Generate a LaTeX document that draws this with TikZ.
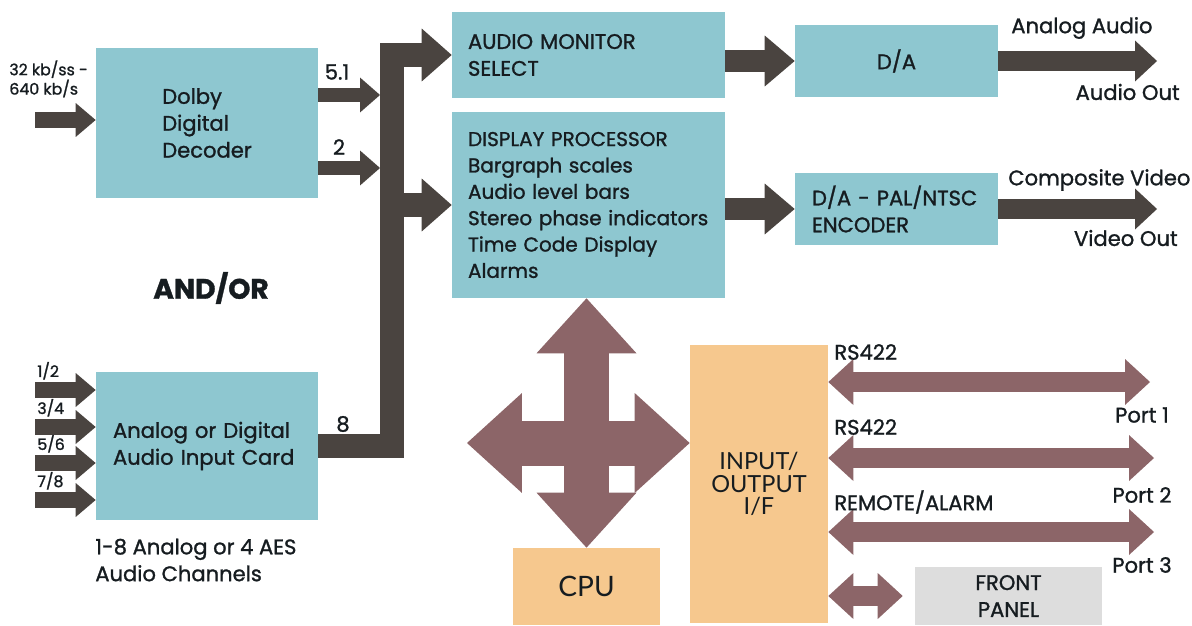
\documentclass[tikz,border=0pt]{standalone}
\usepackage{fontspec}
\setmainfont{Poppins}[FakeBold=1.2]
\newfontfamily\ioFont{Lato}
\usetikzlibrary{arrows.meta,calc}
\definecolor{BoxClr}{RGB}{142,199,208}
\definecolor{IoClr}{RGB}{246,200,142}
\definecolor{PanelClr}{RGB}{221,221,221}
\definecolor{BusClr}{RGB}{74,68,64}
\definecolor{LinkClr}{RGB}{140,101,104}
\definecolor{TextClr}{RGB}{22,28,32}
\newcommand\mainSize{\fontsize{12pt}{15.3pt}\selectfont}
\newcommand\smallSize{\fontsize{9pt}{11pt}\selectfont}

\begin{document}
\begin{tikzpicture}[x=0.02cm,y=-0.02cm,
  box/.style={fill=BoxClr,inner ysep=0pt,text=TextClr,font=\mainSize},
  iobox/.style={fill=IoClr,inner sep=0pt,text=TextClr},
  lbl/.style={text=TextClr,font=\mainSize,inner sep=0pt},
  inarr/.style={draw=BusClr,line width=3.2mm,-{Triangle[length=4mm,width=6.8mm,line width=0pt]}},
  midarr/.style={draw=BusClr,line width=3mm,-{Triangle[length=4mm,width=7mm,line width=0pt]}},
  bus/.style={draw=BusClr,line width=4.8mm,line join=miter,-{Triangle[length=6mm,width=10.6mm,line width=0pt]}},
  busarr/.style={draw=BusClr,line width=4.4mm,-{Triangle[length=6mm,width=10.2mm,line width=0pt]}},
  outarr/.style={draw=BusClr,line width=4mm,-{Triangle[length=4.4mm,width=8.2mm,line width=0pt]}},
  linkarr/.style={draw=LinkClr,line width=4mm,{Triangle[length=5mm,width=9.2mm,line width=0pt]}-{Triangle[length=5mm,width=9.2mm,line width=0pt]}},
  crossarr/.style={draw=LinkClr,line width=9mm,{Triangle[length=11mm,width=20mm,line width=0pt]}-{Triangle[length=11mm,width=20mm,line width=0pt]}}]
\useasboundingbox (0,0) rectangle (1192,625);

% blocks
\node[box,minimum width=4.44cm,minimum height=3cm,align=left] (dolby) at (207,123) {Dolby\\Digital\\Decoder};
\node[box,inner xsep=0.34cm,text width=3.76cm,minimum height=2.96cm,align=left] (card) at (207,446) {Analog or Digital\\Audio Input Card};
\node[box,inner xsep=0.32cm,text width=4.82cm,minimum height=1.72cm,align=left] (monitor) at (588.5,55) {AUDIO MONITOR\\SELECT};
\node[box,inner xsep=0.32cm,text width=4.82cm,minimum height=3.72cm,align=left,font=\fontsize{11.4pt}{15pt}\selectfont] (disp) at (588.5,205) {DISPLAY PROCESSOR\\Bargraph scales\\Audio level bars\\\mbox{Stereo phase indicators}\\Time Code Display\\Alarms};
\node[box,minimum width=4.06cm,minimum height=1.44cm] (da) at (896.5,61) {D/A};
\node[box,inner xsep=0.34cm,text width=3.38cm,minimum height=1.44cm,align=left] (enc) at (896.5,209) {D/A - PAL/NTSC\\ENCODER};
\node[iobox,minimum width=2.94cm,minimum height=1.54cm,font=\ioFont\fontsize{16pt}{18pt}\selectfont] (cpu) at (586.5,586.5) {CPU};
\node[iobox,minimum width=2.76cm,minimum height=5.56cm,align=center,font=\ioFont\fontsize{13.4pt}{12.8pt}\selectfont] (io) at (759,484) {INPUT/\\OUTPUT\\I/F};
\node[fill=PanelClr,inner sep=0pt,minimum width=3.74cm,minimum height=1.16cm,align=center,text=TextClr,font=\mainSize] (front) at (1008.5,596) {FRONT\\PANEL};

\coordinate (din) at (35,120);
\coordinate (in51) at (380,95);
\coordinate (in2) at (380,168);
\coordinate (busx) at (391.5,0);
\coordinate (aout) at (1157,61);
\coordinate (vout) at (1157,209);
\coordinate (xl) at (467,443);
\coordinate (p1) at (1150,382);
\coordinate (p2) at (1154,458);
\coordinate (p3) at (1154,532);

% audio path
\draw[inarr] (din) -- (din -| dolby.west);
\foreach \y/\ch in {390/{1/2},427/{3/4},463/{5/6},500/{7/8}}{
  \coordinate (c\y) at (35,\y);
  \draw[inarr] (c\y) -- (c\y -| card.west);
  \node[lbl,font=\smallSize,anchor=south west] at (37,\y-10) {\ch};
}
\draw[midarr] (dolby.east |- in51) -- (in51);
\draw[midarr] (dolby.east |- in2) -- (in2);
\draw[bus] (card.east) -- (card.east -| busx) -- (busx |- monitor.west) -- (monitor.west);
\draw[bus] (busx |- disp.west) -- (disp.west);

\draw[busarr] (monitor.east |- da.west) -- (da.west);
\draw[busarr] (disp.east |- enc.west) -- (enc.west);
\draw[outarr] (da.east) -- (aout);
\draw[outarr] (enc.east) -- (vout);

% control path
\draw[crossarr] (cpu.north |- disp.south) -- (cpu.north);
\draw[crossarr] (xl) -- (xl -| io.west);
\draw[linkarr] (io.east |- p1) -- (p1);
\draw[linkarr] (io.east |- p2) -- (p2);
\draw[linkarr] (io.east |- p3) -- (p3);
\draw[linkarr] (io.east |- front.west) -- ([xshift=-0.24cm]front.west);

% labels
\node[lbl,font=\smallSize,anchor=north west,align=left] at (9,60) {32 kb/ss -\\640 kb/s};
\node[lbl] at (337,72) {5.1};
\node[lbl] at (339,147) {2};
\node[lbl] at (343,424) {8};
\node[lbl,font=\bfseries\fontsize{16pt}{18pt}\selectfont] at (211,288) {AND/OR};
\node[lbl,anchor=west,align=left] at (95,560) {1-8 Analog or 4 AES\\Audio Channels};
\node[lbl,anchor=west] at (1011,28) {Analog Audio};
\node[lbl,anchor=east] at (1180,92) {Audio Out};
\node[lbl,anchor=west] at (1008,180) {Composite Video};
\node[lbl,anchor=east] at (1178,238) {Video Out};
\node[lbl,anchor=west] at (834,352) {RS422};
\node[lbl,anchor=west] at (834,427) {RS422};
\node[lbl,anchor=west] at (834,502) {REMOTE/ALARM};
\node[lbl] at (1142,415) {Port 1};
\node[lbl] at (1142,495) {Port 2};
\node[lbl] at (1142,565) {Port 3};

\end{tikzpicture}
\end{document}
